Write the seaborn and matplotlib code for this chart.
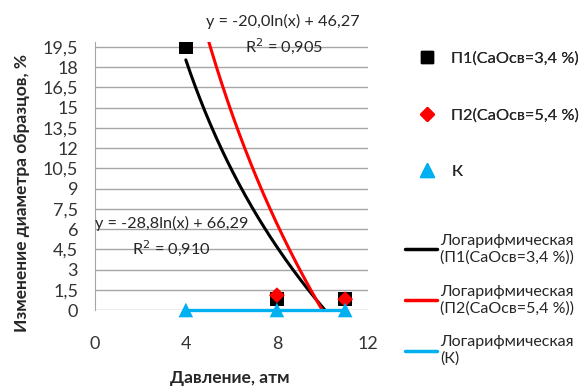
import numpy as np
import matplotlib.pyplot as plt
import seaborn as sns
import pandas as pd
from matplotlib.lines import Line2D

# данные
pressure = [4, 8, 11]
p1_vals = [19.5, 0.8, 0.8]
p2_x = [8, 11]
p2_vals = [1.1, 0.8]
k_vals = [0, 0, 0]

# коэффициенты логарифмических трендов (a*ln(x) + b)
trend_black = (-20.0, 46.27)
trend_red = (-28.8, 66.29)
trend_blue = (0.0, 0.0)

y_ticks = np.arange(0, 19.6, 1.5)
x_ticks = [0, 4, 8, 12]

sns.set_style('white')
plt.rcParams['font.family'] = ['Lato', 'DejaVu Sans']

fig = plt.figure(figsize=(5.85, 3.89), dpi=100)
ax = fig.add_axes([0.162, 0.203, 0.467, 0.689])

xf = np.linspace(4, 11, 200)
trend = pd.DataFrame({
    'x': np.tile(xf, 2),
    'y': np.concatenate([trend_black[0] * np.log(xf) + trend_black[1],
                         trend_red[0] * np.log(xf) + trend_red[1]]),
    's': ['b'] * len(xf) + ['r'] * len(xf),
})
sns.lineplot(data=trend, x='x', y='y', hue='s',
             palette={'b': 'black', 'r': '#FF0000'},
             linewidth=2.2, legend=False, ax=ax, zorder=2)
# тренд К лежит на нуле - рисуем без обрезки
sns.lineplot(x=xf, y=trend_blue[0] * np.log(xf) + trend_blue[1],
             color='#00B0F0', linewidth=2.4, ax=ax, zorder=2.5, clip_on=False)

sns.scatterplot(x=pressure, y=p1_vals, marker='s', s=95, color='black',
                edgecolor='none', ax=ax, zorder=3)
sns.scatterplot(x=p2_x, y=p2_vals, marker='D', s=65, color='#FF0000',
                edgecolor='none', ax=ax, zorder=4)
sns.scatterplot(x=pressure, y=k_vals, marker='^', s=110, color='#00B0F0',
                edgecolor='none', ax=ax, zorder=5, clip_on=False)

ax.set_xlim(0, 12)
ax.set_ylim(0, 19.87)
ax.set_xticks(x_ticks)
ax.set_yticks(y_ticks)
ax.set_yticklabels([('%g' % v).replace('.', ',') for v in y_ticks])
ax.tick_params(axis='x', length=0, pad=19, labelsize=13, colors='#333333')
ax.tick_params(axis='y', length=0, pad=12, labelsize=13, colors='#333333')
ax.yaxis.grid(True, color='#A6A6A6', linewidth=1)
ax.xaxis.grid(False)
for sp in ['top', 'right', 'bottom']:
    ax.spines[sp].set_visible(False)
ax.spines['left'].set_color('#A6A6A6')
ax.set_xlabel('')
ax.set_ylabel('')

fig.text(0.038, 0.505, 'Изменение диаметра образцов, %', rotation=90,
         ha='center', va='center', fontsize=12.5, fontweight='bold')
fig.text(0.393, 0.028, 'Давление, атм', ha='center', va='center',
         fontsize=12.5, fontweight='bold')

ax.text(8.25, 21.4, 'y = -20,0ln(x) + 46,27', ha='center', va='center', fontsize=11.7)
ax.text(8.3, 19.6, 'R$^2$ = 0,905', ha='center', va='center', fontsize=11.7)
ax.text(3.4, 6.45, 'y = -28,8ln(x) + 66,29', ha='center', va='center', fontsize=11.7)
ax.text(3.35, 4.6, 'R$^2$ = 0,910', ha='center', va='center', fontsize=11.7)

mk = [Line2D([], [], ls='none', marker='s', color='black', markersize=9),
      Line2D([], [], ls='none', marker='D', color='#FF0000', markersize=7),
      Line2D([], [], ls='none', marker='^', color='#00B0F0', markersize=10)]
leg1 = fig.legend(mk, ['П1(CaOсв=3,4 %)', 'П2(CaOсв=5,4 %)', 'К'],
                  loc='upper left', bbox_to_anchor=(0.69, 0.905), frameon=False,
                  fontsize=11.8, labelspacing=2.55, handlelength=1.0,
                  handletextpad=1.0)
ln = [Line2D([], [], color='black', lw=2.5),
      Line2D([], [], color='#FF0000', lw=2.5),
      Line2D([], [], color='#00B0F0', lw=2.5)]
leg2 = fig.legend(ln, ['Логарифмическая\n(П1(CaOсв=3,4 %))',
                       'Логарифмическая\n(П2(CaOсв=5,4 %))',
                       'Логарифмическая\n(К)'],
                  loc='upper left', bbox_to_anchor=(0.668, 0.435), frameon=False,
                  fontsize=11.5, labelspacing=1.25, handlelength=2.0,
                  handletextpad=0.2)
fig.add_artist(leg1)

fig.savefig('out.png', dpi=100)
